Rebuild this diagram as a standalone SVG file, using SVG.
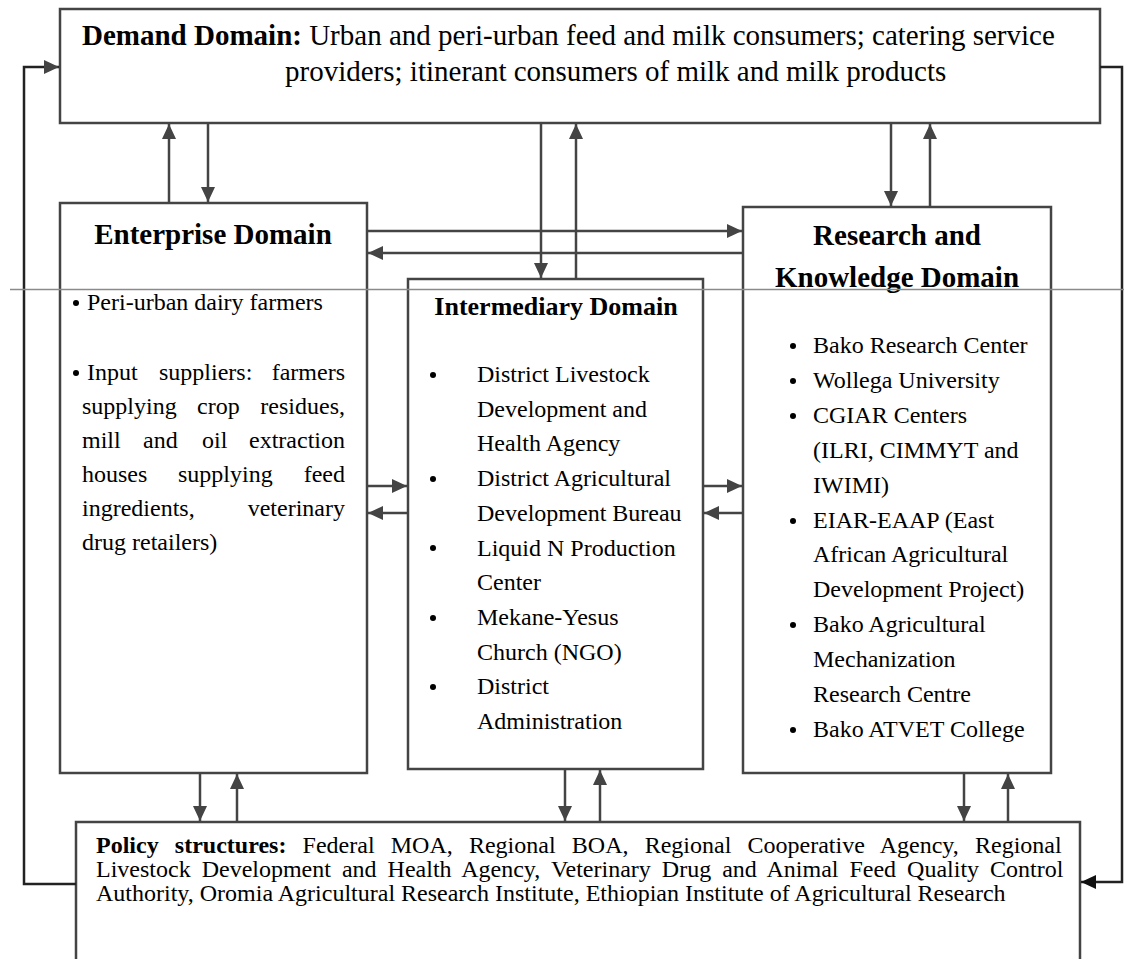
<svg xmlns="http://www.w3.org/2000/svg" width="1124" height="959" viewBox="0 0 1124 959">
  <style>
    .box { fill: #ffffff; stroke: #444444; stroke-width: 2.5; }
    .t { font-family: "Liberation Serif", "Times New Roman", serif; fill: #000000; }
    .b { font-weight: bold; }
    .body { font-size: 24px; }
    .conn { fill: none; stroke: #444444; stroke-width: 2.5; }
    .loop { fill: none; stroke: #222222; stroke-width: 2.5; }
    .dot { fill: #000000; }
  </style>
  <defs>
    <marker id="ah" markerUnits="userSpaceOnUse" markerWidth="15" markerHeight="14" refX="15" refY="7" orient="auto">
      <path d="M0,0 L15,7 L0,14 z" fill="#444444"/>
    </marker>
    <marker id="ahk" markerUnits="userSpaceOnUse" markerWidth="15" markerHeight="14" refX="15" refY="7" orient="auto">
      <path d="M0,0 L15,7 L0,14 z" fill="#111111"/>
    </marker>
  </defs>

  <!-- Demand domain -->
  <g id="demand">
    <rect class="box" x="60" y="9" width="1040" height="114"/>
    <text class="t" x="82" y="45" font-size="29"><tspan class="b">Demand Domain:</tspan> Urban and peri-urban feed and milk consumers; catering service</text>
    <text class="t" x="285" y="81" font-size="29">providers; itinerant consumers of milk and milk products</text>
  </g>

  <!-- Enterprise domain -->
  <g id="enterprise">
    <rect class="box" x="60" y="203" width="307" height="570"/>
    <text class="t b" x="213" y="244" font-size="29" text-anchor="middle">Enterprise Domain</text>
    <circle class="dot" cx="76" cy="303" r="3"/>
    <text class="t body" x="87" y="310">Peri-urban dairy farmers</text>
    <circle class="dot" cx="76" cy="373" r="3"/>
    <text class="t body" x="87" y="380">Input</text>
    <text class="t body" x="159" y="380">suppliers:</text>
    <text class="t body" x="345" y="380" text-anchor="end">farmers</text>
    <text class="t body" x="82" y="414">supplying</text>
    <text class="t body" x="197" y="414">crop</text>
    <text class="t body" x="345" y="414" text-anchor="end">residues,</text>
    <text class="t body" x="82" y="448">mill</text>
    <text class="t body" x="143" y="448">and</text>
    <text class="t body" x="202" y="448">oil</text>
    <text class="t body" x="345" y="448" text-anchor="end">extraction</text>
    <text class="t body" x="82" y="482">houses</text>
    <text class="t body" x="178" y="482">supplying</text>
    <text class="t body" x="345" y="482" text-anchor="end">feed</text>
    <text class="t body" x="82" y="516">ingredients,</text>
    <text class="t body" x="345" y="516" text-anchor="end">veterinary</text>
    <text class="t body" x="82" y="550">drug retailers)</text>
  </g>

  <!-- Intermediary domain -->
  <g id="intermediary">
    <rect class="box" x="408" y="279" width="295" height="490"/>
    <text class="t b" x="556" y="315" font-size="26" text-anchor="middle">Intermediary Domain</text>
    <circle class="dot" cx="433" cy="375" r="3"/>
    <circle class="dot" cx="433" cy="479" r="3"/>
    <circle class="dot" cx="433" cy="548" r="3"/>
    <circle class="dot" cx="433" cy="618" r="3"/>
    <circle class="dot" cx="433" cy="687" r="3"/>
    <text class="t body" x="477" y="382">District Livestock</text>
    <text class="t body" x="477" y="416.7">Development and</text>
    <text class="t body" x="477" y="451.4">Health Agency</text>
    <text class="t body" x="477" y="486.1">District Agricultural</text>
    <text class="t body" x="477" y="520.8">Development Bureau</text>
    <text class="t body" x="477" y="555.5">Liquid N Production</text>
    <text class="t body" x="477" y="590.2">Center</text>
    <text class="t body" x="477" y="624.9">Mekane-Yesus</text>
    <text class="t body" x="477" y="659.6">Church (NGO)</text>
    <text class="t body" x="477" y="694.3">District</text>
    <text class="t body" x="477" y="729">Administration</text>
  </g>

  <!-- Research and knowledge domain -->
  <g id="research">
    <rect class="box" x="743" y="207" width="308" height="566"/>
    <text class="t b" x="897" y="245" font-size="29" text-anchor="middle">Research and</text>
    <text class="t b" x="897" y="287" font-size="29" text-anchor="middle">Knowledge Domain</text>
    <circle class="dot" cx="793" cy="346" r="3"/>
    <circle class="dot" cx="793" cy="381" r="3"/>
    <circle class="dot" cx="793" cy="416" r="3"/>
    <circle class="dot" cx="793" cy="521" r="3"/>
    <circle class="dot" cx="793" cy="625" r="3"/>
    <circle class="dot" cx="793" cy="730" r="3"/>
    <text class="t body" x="813" y="353">Bako Research Center</text>
    <text class="t body" x="813" y="387.9">Wollega University</text>
    <text class="t body" x="813" y="422.8">CGIAR Centers</text>
    <text class="t body" x="813" y="457.7">(ILRI, CIMMYT and</text>
    <text class="t body" x="813" y="492.6">IWIMI)</text>
    <text class="t body" x="813" y="527.5">EIAR-EAAP (East</text>
    <text class="t body" x="813" y="562.4">African Agricultural</text>
    <text class="t body" x="813" y="597.3">Development Project)</text>
    <text class="t body" x="813" y="632.2">Bako Agricultural</text>
    <text class="t body" x="813" y="667.1">Mechanization</text>
    <text class="t body" x="813" y="702">Research Centre</text>
    <text class="t body" x="813" y="736.9">Bako ATVET College</text>
  </g>

  <!-- Policy structures (box runs past the lower edge) -->
  <g id="policy">
    <path class="box" d="M76,975 V822 H1080 V975"/>
    <text class="t" x="96" y="853" font-size="24" word-spacing="10.2"><tspan class="b">Policy structures:</tspan> Federal MOA, Regional BOA, Regional Cooperative Agency, Regional</text>
    <text class="t" x="96" y="877" font-size="24" word-spacing="5">Livestock Development and Health Agency, Veterinary Drug and Animal Feed Quality Control</text>
    <text class="t" x="96" y="901" font-size="24">Authority, Oromia Agricultural Research Institute, Ethiopian Institute of Agricultural Research</text>
  </g>

  <!-- Connectors -->
  <g id="connectors">
    <!-- demand / enterprise -->
    <line class="conn" x1="169" y1="203" x2="169" y2="124" marker-end="url(#ah)"/>
    <line class="conn" x1="208" y1="123" x2="208" y2="202" marker-end="url(#ah)"/>
    <!-- demand / intermediary -->
    <line class="conn" x1="541" y1="123" x2="541" y2="278" marker-end="url(#ah)"/>
    <line class="conn" x1="576" y1="279" x2="576" y2="124" marker-end="url(#ah)"/>
    <!-- demand / research -->
    <line class="conn" x1="891" y1="123" x2="891" y2="206" marker-end="url(#ah)"/>
    <line class="conn" x1="930" y1="207" x2="930" y2="124" marker-end="url(#ah)"/>
    <!-- enterprise / research -->
    <line class="conn" x1="367" y1="231" x2="742" y2="231" marker-end="url(#ah)"/>
    <line class="conn" x1="743" y1="253" x2="368" y2="253" marker-end="url(#ah)"/>
    <!-- enterprise / intermediary -->
    <line class="conn" x1="367" y1="486" x2="407" y2="486" marker-end="url(#ah)"/>
    <line class="conn" x1="408" y1="513" x2="368" y2="513" marker-end="url(#ah)"/>
    <!-- intermediary / research -->
    <line class="conn" x1="703" y1="486" x2="742" y2="486" marker-end="url(#ah)"/>
    <line class="conn" x1="743" y1="513" x2="704" y2="513" marker-end="url(#ah)"/>
    <!-- lower domains / policy -->
    <line class="conn" x1="200" y1="773" x2="200" y2="821" marker-end="url(#ah)"/>
    <line class="conn" x1="237" y1="822" x2="237" y2="774" marker-end="url(#ah)"/>
    <line class="conn" x1="565" y1="769" x2="565" y2="821" marker-end="url(#ah)"/>
    <line class="conn" x1="600" y1="822" x2="600" y2="770" marker-end="url(#ah)"/>
    <line class="conn" x1="964" y1="773" x2="964" y2="821" marker-end="url(#ah)"/>
    <line class="conn" x1="1008" y1="822" x2="1008" y2="774" marker-end="url(#ah)"/>
    <!-- outer feedback loops -->
    <polyline class="loop" points="76,884 24,884 24,67 59,67" marker-end="url(#ah)"/>
    <polyline class="loop" points="1100,67 1122,67 1122,882 1081,882" marker-end="url(#ahk)"/>
  </g>

  <!-- thin rule across the page -->
  <line x1="10" y1="289.5" x2="1124" y2="289.5" stroke="#8a8a8a" stroke-width="1.5"/>
</svg>
